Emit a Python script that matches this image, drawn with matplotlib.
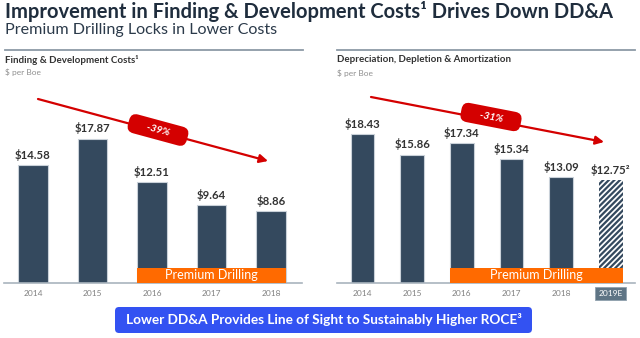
import matplotlib
matplotlib.use("Agg")
import matplotlib.pyplot as plt
from matplotlib.patches import FancyBboxPatch, FancyArrowPatch, Rectangle

plt.rcParams['font.family'] = ['Lato', 'DejaVu Sans']
plt.rcParams['hatch.linewidth'] = 1.6

# ---- data ----
fd_years = ['2014', '2015', '2016', '2017', '2018']
fd_costs = [14.58, 17.87, 12.51, 9.64, 8.86]

dda_years = ['2014', '2015', '2016', '2017', '2018', '2019E']
dda_costs = [18.43, 15.86, 17.34, 15.34, 13.09, 12.75]

fd_change = '-39%'
dda_change = '-31%'

NAVY = '#1f2d3d'
BAR = '#34495e'
ORANGE = '#ff6a00'
RED = '#d40000'
GREY = '#808080'
W, H = 640, 338

fig = plt.figure(figsize=(W / 100, H / 100), dpi=100)


def px_axes(x0, x1, ytop, ybot):
    return fig.add_axes([x0 / W, 1 - ybot / H, (x1 - x0) / W, (ybot - ytop) / H])


def bar_panel(ax, years, values, xlim, width, hatched_last=False, label_sup=None):
    n = len(values)
    bars = ax.bar(range(n), values, width=width, color=BAR,
                  edgecolor='#c9d1d9', linewidth=0.8, zorder=2)
    if hatched_last:
        b = bars[-1]
        b.set_facecolor('white')
        b.set_edgecolor(BAR)
        b.set_linewidth(0)
        b.set_hatch('//////')
    for i, v in enumerate(values):
        txt = r'\$' + f'{v:.2f}'
        if hatched_last and i == n - 1 and label_sup:
            txt += label_sup
        ax.text(i, v + 0.55, txt, ha='center', va='bottom', fontsize=8.2,
                fontweight='bold', color='#333333', zorder=4)
    # premium drilling band from 2016 to the last bar
    x0 = 2 - width / 2
    x1 = n - 1 + width / 2
    ax.add_patch(Rectangle((x0, 0), x1 - x0, 1.86, facecolor=ORANGE,
                           edgecolor='none', zorder=3))
    ax.text((x0 + x1) / 2, 0.93, 'Premium Drilling', ha='center', va='center',
            color='white', fontsize=9, zorder=4)
    ax.set_xlim(*xlim)
    ax.set_ylim(0, 23.9)
    ax.set_yticks([])
    ax.set_xticks(range(n))
    ax.set_xticklabels(years, fontsize=6, color=GREY)
    ax.tick_params(axis='x', length=0, pad=5)
    for s in ('top', 'right', 'left'):
        ax.spines[s].set_visible(False)
    ax.spines['bottom'].set_color('#a9b4be')
    ax.spines['bottom'].set_linewidth(1.2)
    ax.patch.set_alpha(0)


axL = px_axes(4, 302, 90, 283)
bar_panel(axL, fd_years, fd_costs, (-0.487, 4.52), 0.49)

axR = px_axes(337, 635, 90, 283)
bar_panel(axR, dda_years, dda_costs, (-0.514, 5.49), 0.48,
          hatched_last=True, label_sup='²')
# boxed estimate year label
lbl = axR.get_xticklabels()[-1]
lbl.set_color('white')
lbl.set_bbox(dict(boxstyle='square,pad=0.4', facecolor='#5f7585',
                  edgecolor='#8fa0ad', linewidth=0.6))

# ---- overlay in pixel coordinates ----
ov = fig.add_axes([0, 0, 1, 1], zorder=10)
ov.set_xlim(0, W)
ov.set_ylim(H, 0)
ov.axis('off')
ov.patch.set_alpha(0)

ov.text(5, 11, 'Improvement in Finding & Development Costs¹ Drives Down DD&A',
        fontsize=14.5, fontweight='bold', color=NAVY, va='center', ha='left')
ov.text(5, 30, 'Premium Drilling Locks in Lower Costs', fontsize=11.6,
        color='#2b3a4a', va='center', ha='left')

# panel headers
ov.plot([5, 303], [50, 50], color='#8c9aa6', lw=1.3)
ov.plot([337, 635], [50, 50], color='#8c9aa6', lw=1.3)
ov.text(5, 60, 'Finding & Development Costs¹', fontsize=7, fontweight='bold',
        color='#333333', va='center')
ov.text(5, 72, '$ per Boe', fontsize=6, color='#909090', va='center')
ov.text(337, 60, 'Depreciation, Depletion & Amortization', fontsize=7,
        fontweight='bold', color='#333333', va='center')
ov.text(337, 73, '$ per Boe', fontsize=6, color='#909090', va='center')

# trend arrows with change labels
for (x0, y0, x1, y1, lx, ly, ang, txt) in [
        (38, 99, 268, 161, 158, 130, -15.2, fd_change),
        (371, 97, 604, 142, 491, 117, -11.0, dda_change)]:
    ov.add_patch(FancyArrowPatch((x0, y0), (x1, y1),
                                 arrowstyle='-|>,head_length=5,head_width=2.5',
                                 color=RED, lw=1.6, shrinkA=0, shrinkB=0))
    ov.text(lx, ly, '      ' + txt + '      ', rotation=ang, rotation_mode='anchor',
            ha='center', va='center', fontsize=7.5, fontweight='bold',
            style='italic', color='white',
            bbox=dict(boxstyle='round,pad=0.5,rounding_size=0.7',
                      facecolor=RED, edgecolor='none'))

# bottom banner
ov.add_patch(FancyBboxPatch((115, 307), 417, 26,
                            boxstyle='round,pad=0,rounding_size=4',
                            facecolor='#3352f2', edgecolor='none'))
ov.text(324, 320, 'Lower DD&A Provides Line of Sight to Sustainably Higher ROCE³',
        ha='center', va='center', fontsize=9.8, fontweight='bold', color='white')

fig.savefig('out.png', dpi=100)
